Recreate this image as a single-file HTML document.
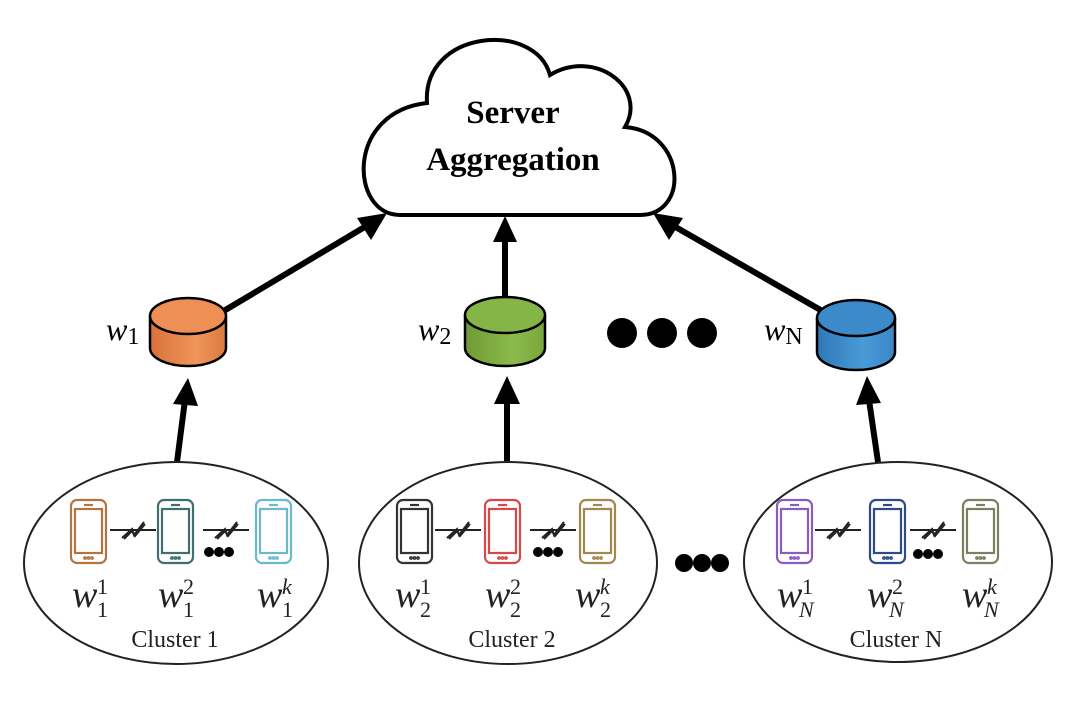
<!DOCTYPE html>
<html><head><meta charset="utf-8"><style>html,body{margin:0;padding:0;background:#fff}svg{display:block}</style></head>
<body>
<svg width="1080" height="708" viewBox="0 0 1080 708" xmlns="http://www.w3.org/2000/svg">
<defs>
<linearGradient id="go" x1="0" x2="1"><stop offset="0" stop-color="#d9703a"/><stop offset="0.6" stop-color="#f0965a"/><stop offset="1" stop-color="#d97a40"/></linearGradient>
<linearGradient id="gg" x1="0" x2="1"><stop offset="0" stop-color="#6f9a35"/><stop offset="0.6" stop-color="#8cba4c"/><stop offset="1" stop-color="#78a63c"/></linearGradient>
<linearGradient id="gb" x1="0" x2="1"><stop offset="0" stop-color="#2f78b8"/><stop offset="0.6" stop-color="#4a9ad8"/><stop offset="1" stop-color="#3a86c6"/></linearGradient>
<g id="ph" fill="none" stroke="currentColor" stroke-width="2.2">
<rect x="0" y="0" width="35" height="63" rx="6"/>
<rect x="4" y="9" width="27" height="44"/>
<line x1="13" y1="5" x2="22" y2="5"/>
<circle cx="14" cy="58" r="0.8"/><circle cx="17.5" cy="58" r="0.8"/><circle cx="21" cy="58" r="0.8"/>
</g>
<g id="lk" fill="none" stroke="#222" stroke-width="2">
<line x1="0" y1="0" x2="46" y2="0"/>
<polyline points="12,8 22,-1 24,5 34,-8"/>
<polyline points="14,9 22,1 25,6 35,-6"/>
</g>
</defs>

<path d="M400 215 C350 215 345 112 427 103 C422 30 535 20 550 75 C595 48 648 88 625 127 C686 132 690 215 640 215 Z" fill="#fff" stroke="#000" stroke-width="4"/>
<text x="513" y="123" text-anchor="middle" font-family="Liberation Serif, serif" font-size="33" font-weight="bold">Server</text>
<text x="513" y="170" text-anchor="middle" font-family="Liberation Serif, serif" font-size="33" font-weight="bold">Aggregation</text>

<g stroke="#000" stroke-width="6" fill="none">
<line x1="222" y1="312" x2="368" y2="225"/>
<line x1="505" y1="298" x2="505" y2="240"/>
<line x1="824" y1="312" x2="672" y2="225"/>
<line x1="177" y1="462" x2="185" y2="400"/>
<line x1="507" y1="462" x2="507" y2="400"/>
<line x1="878" y1="462" x2="869" y2="400"/>
</g>
<g fill="#000">
<polygon points="387,213 357,218 371,240"/>
<polygon points="505,216 493,242 517,242"/>
<polygon points="653,213 669,240 683,218"/>
<polygon points="188,378 173,404 198,406"/>
<polygon points="507,376 494,404 520,404"/>
<polygon points="867,376 856,405 881,403"/>
</g>

<g stroke="#000" stroke-width="2.5">
<path d="M150 316 L150 348 A38 18 0 0 0 226 348 L226 316" fill="url(#go)"/>
<ellipse cx="188" cy="316" rx="38" ry="18" fill="#ee9055"/>
<path d="M465 315 L465 348 A40 18 0 0 0 545 348 L545 315" fill="url(#gg)"/>
<ellipse cx="505" cy="315" rx="40" ry="18" fill="#85b447"/>
<path d="M817 318 L817 352 A39 18 0 0 0 895 352 L895 318" fill="url(#gb)"/>
<ellipse cx="856" cy="318" rx="39" ry="18" fill="#3d8acb"/>
</g>
<g font-family="Liberation Serif, serif" font-size="32" font-style="italic">
<text x="106" y="340">w<tspan font-style="normal" font-size="24" dy="4">1</tspan></text>
<text x="418" y="340">w<tspan font-style="normal" font-size="24" dy="4">2</tspan></text>
<text x="764" y="340">w<tspan font-style="normal" font-size="24" dy="4">N</tspan></text>
</g>

<circle cx="622" cy="333" r="15"/><circle cx="662" cy="333" r="15"/><circle cx="702" cy="333" r="15"/>
<circle cx="684" cy="563" r="9"/><circle cx="702" cy="563" r="9"/><circle cx="720" cy="563" r="9"/>

<g fill="none" stroke="#222" stroke-width="2">
<ellipse cx="176" cy="563" rx="152" ry="101"/>
<ellipse cx="508" cy="563" rx="149" ry="101"/>
<ellipse cx="898" cy="562" rx="154" ry="100"/>
</g>

<use href="#ph" x="71" y="500" color="#b5743f"/>
<use href="#ph" x="158" y="500" color="#3f6f6f"/>
<use href="#ph" x="256" y="500" color="#6bb8cf"/>
<use href="#lk" x="110" y="530"/>
<use href="#lk" x="203" y="530"/>
<circle cx="209" cy="552" r="5"/><circle cx="219" cy="552" r="5"/><circle cx="229" cy="552" r="5"/>
<use href="#ph" x="397" y="500" color="#333"/>
<use href="#ph" x="485" y="500" color="#d94848"/>
<use href="#ph" x="580" y="500" color="#a08850"/>
<use href="#lk" x="435" y="530"/>
<use href="#lk" x="530" y="530"/>
<circle cx="538" cy="552" r="5"/><circle cx="548" cy="552" r="5"/><circle cx="558" cy="552" r="5"/>
<use href="#ph" x="777" y="500" color="#8a5cc0"/>
<use href="#ph" x="870" y="500" color="#2f4a8a"/>
<use href="#ph" x="963" y="500" color="#7a8060"/>
<use href="#lk" x="815" y="530"/>
<use href="#lk" x="910" y="530"/>
<circle cx="918" cy="554" r="5"/><circle cx="928" cy="554" r="5"/><circle cx="938" cy="554" r="5"/>

<g font-family="Liberation Serif, serif" font-size="38" font-style="italic" fill="#222">
<text x="72" y="607">w</text><text x="97" y="594" font-size="22" font-style="normal">1</text><text x="97" y="617" font-size="22" font-style="normal">1</text>
<text x="158" y="607">w</text><text x="183" y="594" font-size="22" font-style="normal">2</text><text x="183" y="617" font-size="22" font-style="normal">1</text>
<text x="257" y="607">w</text><text x="282" y="594" font-size="22">k</text><text x="282" y="617" font-size="22" font-style="normal">1</text>

<text x="395" y="607">w</text><text x="420" y="594" font-size="22" font-style="normal">1</text><text x="420" y="617" font-size="22" font-style="normal">2</text>
<text x="485" y="607">w</text><text x="510" y="594" font-size="22" font-style="normal">2</text><text x="510" y="617" font-size="22" font-style="normal">2</text>
<text x="575" y="607">w</text><text x="600" y="594" font-size="22">k</text><text x="600" y="617" font-size="22" font-style="normal">2</text>

<text x="777" y="607">w</text><text x="802" y="594" font-size="22" font-style="normal">1</text><text x="799" y="617" font-size="22">N</text>
<text x="867" y="607">w</text><text x="892" y="594" font-size="22" font-style="normal">2</text><text x="889" y="617" font-size="22">N</text>
<text x="962" y="607">w</text><text x="987" y="594" font-size="22">k</text><text x="984" y="617" font-size="22">N</text>
</g>
<g font-family="Liberation Serif, serif" font-size="24" fill="#222" text-anchor="middle">
<text x="175" y="647">Cluster 1</text>
<text x="512" y="647">Cluster 2</text>
<text x="896" y="647">Cluster N</text>
</g>
</svg>
</body></html>
